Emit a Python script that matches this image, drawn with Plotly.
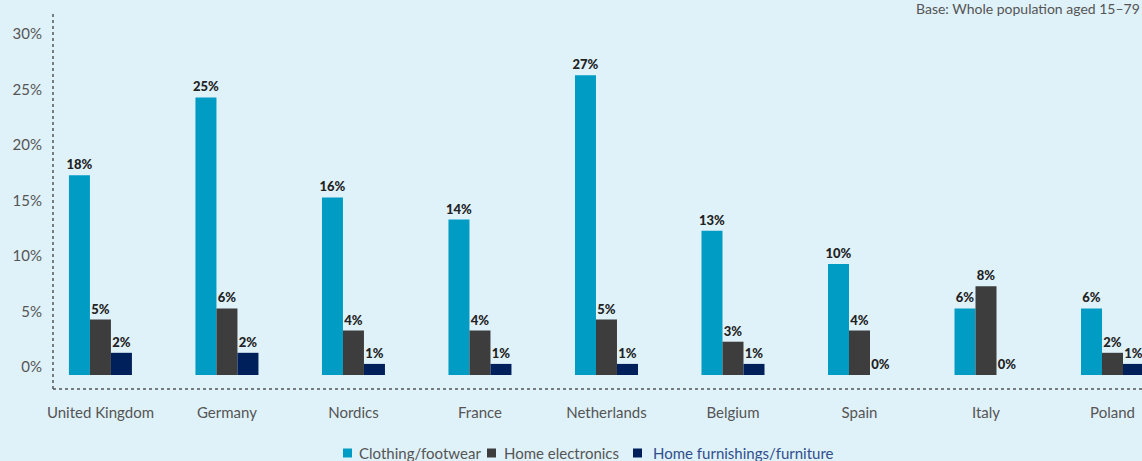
import plotly.graph_objects as go

countries = ["United Kingdom", "Germany", "Nordics", "France", "Netherlands",
             "Belgium", "Spain", "Italy", "Poland"]
clothing = [18, 25, 16, 14, 27, 13, 10, 6, 6]
electronics = [5, 6, 4, 4, 5, 3, 4, 8, 2]
furnishings = [2, 2, 1, 1, 1, 1, 0, 0, 1]
y_ticks = [0, 5, 10, 15, 20, 25, 30]

series_names = ["Clothing/footwear", "Home electronics", "Home furnishings/furniture"]
series_values = [clothing, electronics, furnishings]
series_colors = ["#009cc4", "#3d3d3d", "#00205c"]
legend_text_colors = ["#555555", "#555555", "#2f4f8c"]

BG = "#dff1f9"
FONT = "Lato"

# Pixel geometry of the plotting area
W, H = 1142, 461
L, T, B = 53, 12, 72
PLOT_W = W - L
PLOT_H = H - T - B


def px_to_paper_x(px):
    return (px - L) / PLOT_W


def px_to_paper_y(py):
    return (H - B - py) / PLOT_H


fig = go.Figure()
for name, vals, color in zip(series_names, series_values, series_colors):
    fig.add_trace(go.Bar(
        x=countries, y=vals, name=name,
        marker=dict(color=color, line=dict(width=0)),
        text=[f"{v}%" for v in vals], textposition="outside",
        constraintext="none",
        textfont=dict(family=FONT, size=13, color="#222222", weight=900),
        cliponaxis=False, showlegend=False,
    ))

# Legend drawn as swatches + labels along the bottom
legend_square_x = [343, 487, 633]
legend_text_x = [357, 502, 651]
legend_y = 453
shapes = [
    dict(type="line", xref="paper", yref="paper", x0=0, x1=0, y0=0, y1=1,
         line=dict(color="#555555", width=1.5, dash="dot")),
    dict(type="line", xref="paper", yref="paper", x0=0, x1=1, y0=0, y1=0,
         line=dict(color="#555555", width=1.5, dash="dot")),
]
annotations = [dict(text="Base: Whole population aged 15–79", xref="paper", yref="paper",
                    x=px_to_paper_x(914), y=px_to_paper_y(8), xanchor="left",
                    yanchor="middle", showarrow=False,
                    font=dict(family=FONT, size=14, color="#555555"))]
for sx, tx, name, color, tcolor in zip(legend_square_x, legend_text_x, series_names,
                                       series_colors, legend_text_colors):
    shapes.append(dict(type="rect", xref="paper", yref="paper",
                       x0=px_to_paper_x(sx), x1=px_to_paper_x(sx + 9),
                       y0=px_to_paper_y(legend_y + 4.5), y1=px_to_paper_y(legend_y - 4.5),
                       fillcolor=color, line=dict(width=0)))
    annotations.append(dict(text=name, xref="paper", yref="paper",
                            x=px_to_paper_x(tx), y=px_to_paper_y(legend_y),
                            xanchor="left", yanchor="middle", showarrow=False,
                            font=dict(family=FONT, size=15, color=tcolor)))

fig.update_layout(
    width=W, height=H,
    margin=dict(l=L, r=0, t=T, b=B, autoexpand=False),
    paper_bgcolor=BG, plot_bgcolor=BG,
    barmode="group", bargap=0.502, bargroupgap=0,
    font=dict(family=FONT, color="#555555"),
    showlegend=False,
    xaxis=dict(range=[-0.375, 8.233], showline=False, showgrid=False, zeroline=False,
               ticks="", tickfont=dict(size=15, color="#555555"), ticklabelstandoff=13),
    yaxis=dict(range=[-1.26, 32.7], tickvals=y_ticks,
               ticktext=[f"{v}%" for v in y_ticks],
               showline=False, showgrid=False, zeroline=False, ticks="",
               tickfont=dict(size=15, color="#555555"), ticklabelshift=-8,
               ticklabelstandoff=10),
    annotations=annotations,
    shapes=shapes,
)

fig.write_html("out.html")
